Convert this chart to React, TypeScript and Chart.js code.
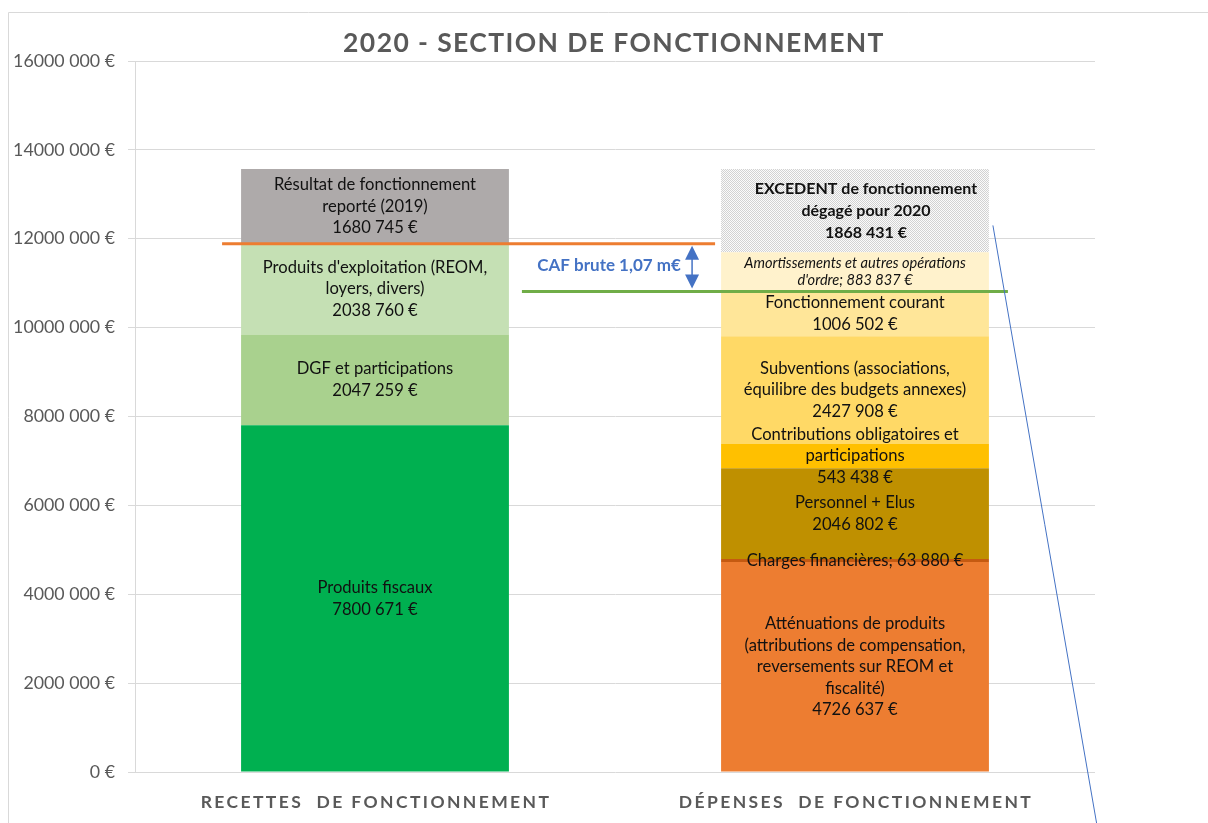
import React, { useEffect, useRef } from "react";
import { Chart, registerables } from "chart.js";
Chart.register(...registerables);

const titleText = "2020 - SECTION DE FONCTIONNEMENT";
const categories = ["RECETTES  DE FONCTIONNEMENT", "DÉPENSES  DE FONCTIONNEMENT"];
const yMax = 16000000;
const yStep = 2000000;

const recettesNames = [
  "Produits fiscaux",
  "DGF et participations",
  "Produits d'exploitation",
  "Résultat de fonctionnement reporté (2019)",
];
const recettesValues = [7800671, 2047259, 2038760, 1680745];
const recettesColors = ["#00b050", "#a9d18e", "#c5e0b4", "#aeaaaa"];
const recettesLabels = [
  ["Produits fiscaux", "{v}"],
  ["DGF et participations", "{v}"],
  ["Produits d'exploitation (REOM,", "loyers, divers)", "{v}"],
  ["Résultat de fonctionnement", "reporté (2019)", "{v}"],
];

const depensesNames = [
  "Atténuations de produits",
  "Charges financières",
  "Personnel + Elus",
  "Contributions obligatoires et participations",
  "Subventions",
  "Fonctionnement courant",
  "Amortissements et autres opérations d'ordre",
  "EXCEDENT de fonctionnement dégagé pour 2020",
];
const depensesValues = [4726637, 63880, 2046802, 543438, 2427908, 1006502, 883837, 1868431];
const depensesColors = ["#ed7d31", "#c55a11", "#bf9000", "#ffc000", "#ffd966", "#ffe699", "#fff2cc", "pattern"];
const depensesLabels = [
  ["Atténuations de produits", "(attributions de compensation,", "reversements sur REOM et", "fiscalité)", "{v}"],
  ["Charges financières; {v}"],
  ["Personnel + Elus", "{v}"],
  ["Contributions obligatoires et", "participations", "{v}"],
  ["Subventions (associations,", "équilibre des budgets annexes)", "{v}"],
  ["Fonctionnement courant", "{v}"],
  ["Amortissements et autres opérations", "d'ordre; {v}"],
  ["EXCEDENT de fonctionnement", "dégagé pour 2020", "{v}"],
];
const depensesLabelStyle = ["normal", "normal", "normal", "normal", "normal", "normal", "italic", "bold"];
const cafText = "CAF brute 1,07 m€";

const FONT = "Lato, 'Open Sans', sans-serif";

function fmtEuro(v: number): string {
  if (v < 1000) return `${v} €`;
  const th = Math.floor(v / 1000);
  const rest = String(v % 1000).padStart(3, "0");
  return `${th} ${rest} €`;
}
function fmtTick(v: number): string {
  if (v === 0) return "0 €";
  return `${v / 1000000}000 000 €`;
}

function makePattern(): CanvasPattern | string {
  const c = document.createElement("canvas");
  c.width = 2;
  c.height = 2;
  const g = c.getContext("2d");
  if (!g) return "#e6e6e6";
  g.fillStyle = "#fbfbfb";
  g.fillRect(0, 0, 2, 2);
  g.fillStyle = "#d2d2d2";
  g.fillRect(0, 0, 1, 1);
  g.fillRect(1, 1, 1, 1);
  const p = g.createPattern(c, "repeat");
  return p || "#e6e6e6";
}

export default function App() {
  const ref = useRef<HTMLCanvasElement | null>(null);
  useEffect(() => {
    document.body.style.margin = "0";
    const canvas = ref.current;
    if (!canvas) return;
    const pattern = makePattern();

    const datasets: any[] = [];
    recettesValues.forEach((v, i) => {
      datasets.push({
        label: recettesNames[i],
        data: [v, null],
        backgroundColor: recettesColors[i],
        stack: "s",
        _lines: recettesLabels[i],
        _style: "normal",
        _group: "r",
      });
    });
    depensesValues.forEach((v, i) => {
      datasets.push({
        label: depensesNames[i],
        data: [null, v],
        backgroundColor: depensesColors[i] === "pattern" ? pattern : depensesColors[i],
        stack: "s",
        _lines: depensesLabels[i],
        _style: depensesLabelStyle[i],
        _group: "d",
      });
    });

    const recettesReelles = recettesValues.slice(0, 3).reduce((a, b) => a + b, 0);
    const depensesReelles = depensesValues.slice(0, 6).reduce((a, b) => a + b, 0);

    const deco = {
      id: "deco",
      afterDatasetsDraw(chart: any) {
        const ctx = chart.ctx as CanvasRenderingContext2D;
        const ys = chart.scales.y;
        ctx.save();
        ctx.textAlign = "center";
        ctx.textBaseline = "middle";
        chart.data.datasets.forEach((ds: any, di: number) => {
          const meta = chart.getDatasetMeta(di);
          const idx = ds._group === "r" ? 0 : 1;
          const el = meta.data[idx];
          if (!el) return;
          const cy = (el.y + el.base) / 2;
          const val = ds.data[idx];
          const lines: string[] = ds._lines.map((s: string) => s.replace("{v}", fmtEuro(val)));
          let size = 16.6;
          let lh = 21.5;
          let dx = 0;
          let font = `${size}px ${FONT}`;
          if (ds._style === "italic") {
            size = 14.6;
            lh = 17;
            font = `italic ${size}px ${FONT}`;
          } else if (ds._style === "bold") {
            size = 16;
            lh = 22;
            dx = 11;
            font = `bold ${size}px ${FONT}`;
          }
          ctx.font = font;
          ctx.fillStyle = "#111111";
          const start = cy - ((lines.length - 1) * lh) / 2;
          lines.forEach((l, k) => ctx.fillText(l, el.x + dx, start + k * lh));
        });

        const rEl = chart.getDatasetMeta(0).data[0];
        const dEl = chart.getDatasetMeta(recettesValues.length).data[1];
        const rLeft = rEl.x - rEl.width / 2;
        const rRight = rEl.x + rEl.width / 2;
        const dLeft = dEl.x - dEl.width / 2;
        const dRight = dEl.x + dEl.width / 2;
        const yO = ys.getPixelForValue(recettesReelles);
        const yG = ys.getPixelForValue(depensesReelles);

        ctx.lineWidth = 3;
        ctx.strokeStyle = "#ed7d31";
        ctx.beginPath();
        ctx.moveTo(rLeft - 19, yO);
        ctx.lineTo(dLeft - 6, yO);
        ctx.stroke();
        ctx.strokeStyle = "#70ad47";
        ctx.beginPath();
        ctx.moveTo(rRight + 13, yG);
        ctx.lineTo(dRight + 19, yG);
        ctx.stroke();

        // double arrow
        const ax = dLeft - 29;
        const top = yO + 2;
        const bot = yG - 3;
        ctx.strokeStyle = "#4472c4";
        ctx.fillStyle = "#4472c4";
        ctx.lineWidth = 1.5;
        ctx.beginPath();
        ctx.moveTo(ax, top + 10);
        ctx.lineTo(ax, bot - 10);
        ctx.stroke();
        ctx.beginPath();
        ctx.moveTo(ax, top);
        ctx.lineTo(ax - 7, top + 14);
        ctx.lineTo(ax + 7, top + 14);
        ctx.closePath();
        ctx.fill();
        ctx.beginPath();
        ctx.moveTo(ax, bot);
        ctx.lineTo(ax - 7, bot - 14);
        ctx.lineTo(ax + 7, bot - 14);
        ctx.closePath();
        ctx.fill();

        ctx.font = `bold 17px ${FONT}`;
        ctx.fillText(cafText, ax - 83, (yO + yG) / 2 - 2);

        // diagonal thin line
        ctx.lineWidth = 1;
        ctx.beginPath();
        ctx.moveTo(dRight + 4, ys.getPixelForValue(12300000));
        ctx.lineTo(dRight + 108, chart.height + 2);
        ctx.stroke();

        // x labels
        ctx.fillStyle = "#595959";
        ctx.font = `bold 17.5px ${FONT}`;
        (ctx as any).letterSpacing = "2.4px";
        categories.forEach((c, i) => {
          const x = chart.scales.x.getPixelForValue(i);
          ctx.fillText(c, x + 1, ys.bottom + 30);
        });

        // title
        ctx.font = `bold 26.5px ${FONT}`;
        (ctx as any).letterSpacing = "1.4px";
        ctx.fillText(titleText, (chart.chartArea.left + chart.chartArea.right) / 2 - 1, 43);
        (ctx as any).letterSpacing = "0px";

        // frame
        ctx.strokeStyle = "#d9d9d9";
        ctx.lineWidth = 1;
        ctx.beginPath();
        ctx.moveTo(8.5, chart.height);
        ctx.lineTo(8.5, 12.5);
        ctx.lineTo(chart.width, 12.5);
        ctx.stroke();
        ctx.restore();
      },
    };

    const chart = new Chart(canvas, {
      type: "bar",
      data: { labels: categories, datasets },
      options: {
        animation: false,
        responsive: true,
        maintainAspectRatio: false,
        layout: { padding: { top: 61, right: 113, left: 0, bottom: 0 } },
        plugins: { legend: { display: false }, tooltip: { enabled: false }, title: { display: false } },
        datasets: { bar: { categoryPercentage: 1, barPercentage: 0.558, borderWidth: 0 } },
        scales: {
          x: {
            stacked: true,
            grid: { display: false },
            border: { display: false },
            ticks: { display: false },
            afterFit: (s: any) => {
              s.height = 51;
            },
          },
          y: {
            stacked: true,
            min: 0,
            max: yMax,
            ticks: {
              stepSize: yStep,
              padding: 13,
              color: "#595959",
              font: { family: FONT, size: 17.8 },
              callback: (v: any) => fmtTick(Number(v)),
            },
            grid: { color: "#d9d9d9", tickLength: 7, lineWidth: 1 },
            border: { display: true, color: "#d9d9d9" },
            afterFit: (s: any) => {
              s.width = 135;
            },
          },
        },
      },
      plugins: [deco],
    });
    return () => chart.destroy();
  }, []);

  return (
    <div style={{ width: 1208, height: 823, position: "relative", background: "#fff" }}>
      <canvas ref={ref} />
    </div>
  );
}
